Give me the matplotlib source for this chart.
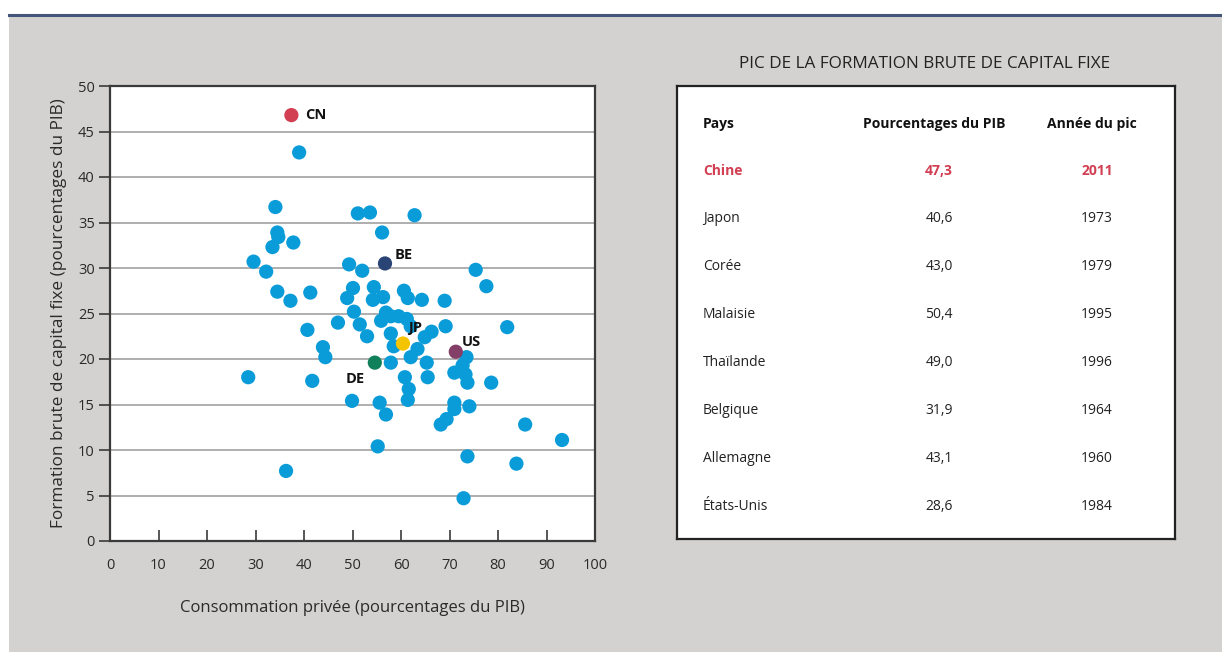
import matplotlib
matplotlib.use("Agg")
import matplotlib.pyplot as plt
from matplotlib.patches import Rectangle
from matplotlib.lines import Line2D

plt.rcParams['font.family'] = ['Open Sans', 'DejaVu Sans']

# ---- data ----
other_x = [39.0, 34.1, 34.5, 34.7, 37.8, 33.5, 29.6, 32.2, 34.5, 37.2, 41.3, 40.7, 43.9, 44.4,
           41.7, 28.5, 36.3, 47.0, 51.1, 53.6, 62.8, 56.1, 49.3, 52.0, 50.1, 48.9, 50.3, 51.5,
           53.0, 54.4, 54.2, 56.3, 60.6, 61.4, 64.3, 69.0, 56.9, 55.9, 57.9, 59.5, 61.2, 62.0,
           57.9, 66.3, 64.9, 58.5, 63.4, 62.0, 57.9, 65.3, 69.2, 81.9, 75.4, 77.6, 73.5, 71.0,
           73.3, 73.7, 78.6, 60.8, 65.5, 61.6, 61.4, 49.9, 55.6, 56.9, 71.0, 71.0, 74.1, 69.4,
           68.2, 85.6, 93.2, 55.2, 73.7, 83.8, 72.9, 72.7]
other_y = [42.7, 36.7, 33.9, 33.4, 32.8, 32.3, 30.7, 29.6, 27.4, 26.4, 27.3, 23.2, 21.3, 20.2,
           17.6, 18.0, 7.7, 24.0, 36.0, 36.1, 35.8, 33.9, 30.4, 29.7, 27.8, 26.7, 25.2, 23.8,
           22.5, 27.9, 26.5, 26.8, 27.5, 26.7, 26.5, 26.4, 25.1, 24.2, 24.7, 24.7, 24.4, 23.6,
           22.8, 23.0, 22.4, 21.4, 21.1, 20.2, 19.6, 19.6, 23.6, 23.5, 29.8, 28.0, 20.2, 18.5,
           18.3, 17.4, 17.4, 18.0, 18.0, 16.7, 15.5, 15.4, 15.2, 13.9, 15.2, 14.5, 14.8, 13.4,
           12.8, 12.8, 11.1, 10.4, 9.3, 8.5, 4.7, 19.3]

hl_codes = ['CN', 'BE', 'JP', 'US', 'DE']
hl_x = [37.4, 56.7, 60.4, 71.3, 54.6]
hl_y = [46.8, 30.5, 21.7, 20.8, 19.6]
hl_colors = ['#d23f52', '#2b4476', '#f5c400', '#843f68', '#10805a']
hl_offsets = [(10, 0), (7, 6), (4, 11), (4, 7), (-14, -12)]
hl_ha = ['left', 'left', 'left', 'left', 'center']

x_ticks = [0, 10, 20, 30, 40, 50, 60, 70, 80, 90, 100]
y_ticks = [0, 5, 10, 15, 20, 25, 30, 35, 40, 45, 50]

table_title = "PIC DE LA FORMATION BRUTE DE CAPITAL FIXE"
table_headers = ["Pays", "Pourcentages du PIB", "Année du pic"]
countries = ["Chine", "Japon", "Corée", "Malaisie", "Thaïlande", "Belgique", "Allemagne", "États-Unis"]
peak_pct = ["47,3", "40,6", "43,0", "50,4", "49,0", "31,9", "43,1", "28,6"]
peak_year = ["2011", "1973", "1979", "1995", "1996", "1964", "1960", "1984"]

W, H = 1222, 652
fig = plt.figure(figsize=(W / 100, H / 100), dpi=100)
fig.patch.set_facecolor('white')

# background panel and top rule
fig.add_artist(Rectangle((9 / W, 0), 1 - 9 / W, (H - 16) / H, transform=fig.transFigure,
                         facecolor='#d3d2d0', edgecolor='none', zorder=0))
fig.add_artist(Line2D([9 / W, 1], [(H - 15) / H, (H - 15) / H], transform=fig.transFigure,
                      color='#44557a', lw=2.2, zorder=1))

# ---- scatter ----
ax = fig.add_axes([110 / W, (H - 541) / H, (595 - 110) / W, (541 - 86) / H])
ax.set_facecolor('white')
ax.set_xlim(0, 100)
ax.set_ylim(0, 50)
ax.set_xticks(x_ticks)
ax.set_yticks(y_ticks)
for y in y_ticks[1:-1]:
    ax.axhline(y, color='#a8a8a8', lw=1.3, zorder=1)
for s in ax.spines.values():
    s.set_color('#3a3a3a')
    s.set_linewidth(1.6)
ax.tick_params(axis='x', direction='in', length=8, width=1.2, color='#3a3a3a',
               labelsize=10.5, pad=12, labelcolor='#2a2a2a')
ax.tick_params(axis='y', direction='out', length=8, width=1.2, color='#3a3a3a',
               labelsize=10.5, pad=3, labelcolor='#2a2a2a')

ax.scatter(other_x, other_y, s=105, color='#0a9bd9', edgecolors='none', zorder=3)
ax.scatter(hl_x, hl_y, s=105, color=hl_colors, edgecolors='none', zorder=4)
for code, x, y, off, ha in zip(hl_codes, hl_x, hl_y, hl_offsets, hl_ha):
    ax.annotate(code, (x, y), xytext=off, textcoords='offset points', ha=ha, va='center',
                fontsize=10.5, fontweight='bold', color='#111111', zorder=5)

ax.set_xlabel("Consommation privée (pourcentages du PIB)", fontsize=12, color='#2a2a2a',
              labelpad=20)
ax.set_ylabel("Formation brute de capital fixe (pourcentages du PIB)", fontsize=12.4,
              color='#2a2a2a', labelpad=8)

# ---- table ----
tx = fig.add_axes([677 / W, (H - 539) / H, (1175 - 677) / W, (539 - 86) / H])
tx.set_xlim(677, 1175)
tx.set_ylim(539, 86)
tx.set_xticks([])
tx.set_yticks([])
tx.set_facecolor('white')
for s in tx.spines.values():
    s.set_color('#222222')
    s.set_linewidth(1.6)

fig.text(925 / W, (H - 64) / H, table_title, ha='center', va='center', fontsize=12.3,
         color='#222222')

col_x = [703, 934, 1092]
hdr_y = 124
tx.text(col_x[0], hdr_y, table_headers[0], ha='left', va='center', fontsize=10,
        fontweight='bold', color='#111111')
tx.text(col_x[1], hdr_y, table_headers[1], ha='center', va='center', fontsize=10,
        fontweight='bold', color='#111111')
tx.text(col_x[2], hdr_y, table_headers[2], ha='center', va='center', fontsize=10,
        fontweight='bold', color='#111111')

val_x = [939, 1097]
for i, (c, p, yv) in enumerate(zip(countries, peak_pct, peak_year)):
    ry = 171 + 48 * i
    if i == 0:
        kw = dict(fontweight='bold', color='#d23f52')
    else:
        kw = dict(color='#222222')
    tx.text(col_x[0], ry, c, ha='left', va='center', fontsize=10, **kw)
    tx.text(val_x[0], ry, p, ha='center', va='center', fontsize=10, **kw)
    tx.text(val_x[1], ry, yv, ha='center', va='center', fontsize=10, **kw)

fig.savefig('out.png', dpi=100, facecolor=fig.get_facecolor())
